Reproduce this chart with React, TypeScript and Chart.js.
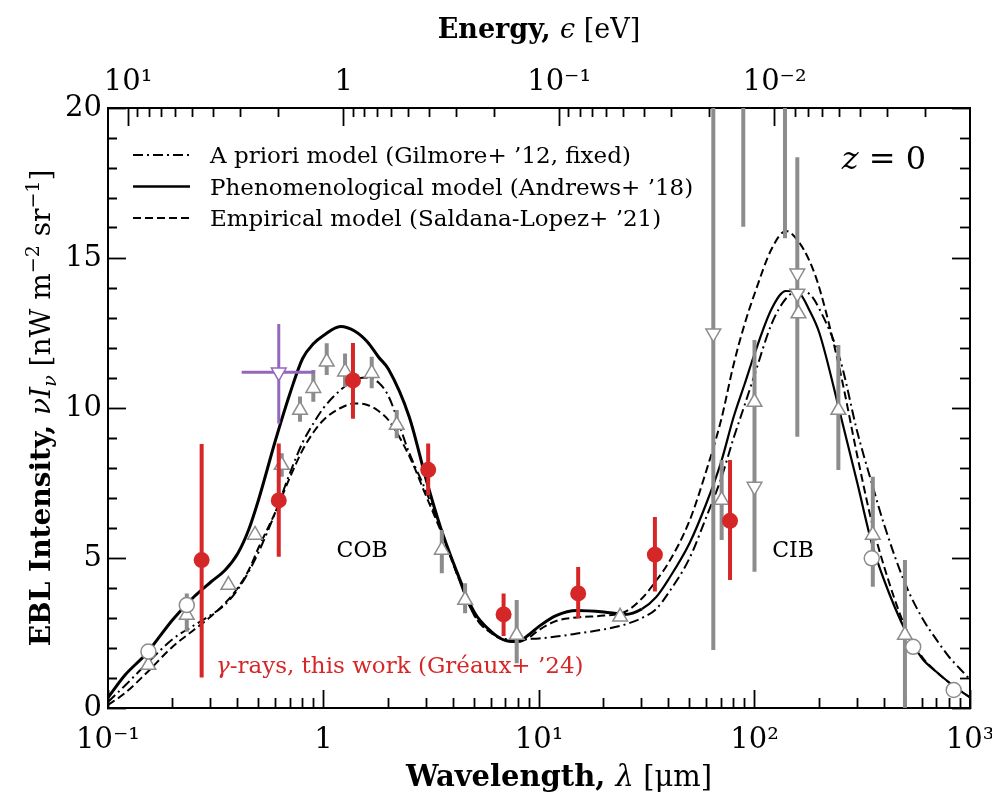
import React, { useEffect, useRef } from 'react';
import { Chart, registerables } from 'chart.js';

Chart.register(...registerables);

const FAMILY = "'DejaVu Serif', 'Liberation Serif', serif";

// ---------------- data ----------------
const lambdaGrid = [0.1, 0.12, 0.15, 0.2, 0.25, 0.3, 0.35, 0.4, 0.45, 0.5, 0.6, 0.7, 0.8, 0.9, 1.0, 1.2, 1.4, 1.6, 1.8, 2.0, 2.5, 3, 3.5, 4, 5, 6, 7, 8, 9, 10, 12, 15, 20, 25, 30, 35, 40, 50, 60, 70, 80, 90, 100, 120, 140, 160, 180, 200, 250, 300, 350, 400, 500, 600, 700, 800, 900, 1000];

const gilmoreI = [0.2, 0.75, 1.45, 2.3, 2.75, 3.1, 3.45, 3.95, 4.55, 5.2, 6.55, 7.85, 8.85, 9.5, 10.0, 10.6, 10.95, 11.02, 10.85, 10.4, 8.5, 7.2, 5.95, 4.8, 3.1, 2.5, 2.3, 2.28, 2.3, 2.32, 2.38, 2.48, 2.62, 2.78, 3.0, 3.3, 3.85, 5.0, 6.4, 7.65, 9.0, 10.1, 11.1, 12.8, 13.65, 13.9, 13.8, 13.3, 11.6, 9.2, 7.5, 6.1, 4.15, 3.0, 2.27, 1.7, 1.3, 0.95];

const andrewsI = [0.35, 1.1, 1.8, 2.95, 3.7, 4.2, 4.6, 5.15, 5.95, 6.95, 8.95, 10.5, 11.65, 12.15, 12.42, 12.72, 12.56, 12.2, 11.7, 11.3, 9.7, 7.6, 6.0, 4.85, 3.2, 2.55, 2.25, 2.22, 2.45, 2.72, 3.08, 3.25, 3.2, 3.12, 3.3, 3.7, 4.3, 5.5, 6.85, 8.2, 9.7, 10.8, 11.8, 13.3, 13.9, 13.85, 13.25, 12.5, 9.8, 7.5, 5.5, 4.25, 2.6, 1.65, 1.2, 0.85, 0.58, 0.35];

const saldanaI = [0.1, 0.5, 1.15, 2.05, 2.6, 3.05, 3.5, 4.0, 4.6, 5.35, 6.55, 7.7, 8.6, 9.2, 9.6, 10.0, 10.15, 10.1, 9.9, 9.6, 8.4, 7.05, 5.9, 4.8, 3.1, 2.5, 2.25, 2.2, 2.35, 2.6, 2.9, 3.02, 3.08, 3.2, 3.65, 4.25, 4.85, 6.25, 7.95, 9.6, 11.45, 12.8, 13.8, 15.3, 15.9, 15.55, 14.9, 14.0, 11.2, 8.4, 6.2, 4.7, 2.7, 1.7, 1.2, 0.85, 0.58, 0.35];

// gamma-ray points (this work)
const gammaLambda = [0.272, 0.62, 1.37, 3.06, 6.85, 15.2, 34.5, 77.0];
const gammaI = [4.93, 6.92, 10.92, 7.94, 3.12, 3.82, 5.11, 6.24];
const gammaLo = [1.02, 5.04, 9.64, 7.1, 2.4, 2.99, 3.88, 4.27];
const gammaHi = [8.8, 8.82, 12.17, 8.82, 3.82, 4.7, 6.37, 8.27];

// purple point
const purpleLambda = [0.62];
const purpleI = [11.19];
const purpleYLo = [9.48];
const purpleYHi = [12.8];
const purpleXLo = [0.417];
const purpleXHi = [0.913];

// grey literature data
const upLambda = [0.154, 0.232, 0.362, 0.481, 0.64, 0.778, 0.897, 1.035, 1.259, 1.674, 2.187, 3.54, 4.54, 7.88, 23.8, 70.4, 100, 160, 245, 354, 499];
const upI = [1.43, 3.1, 4.1, 5.77, 8.1, 9.93, 10.66, 11.54, 11.21, 11.16, 9.43, 5.27, 3.6, 2.43, 3.04, 6.93, 10.2, 13.15, 9.93, 5.77, 2.43];

const downLambda = [64.4, 100, 158, 158];
const downI = [12.49, 7.38, 14.49, 13.82];

const circLambda = [0.154, 0.232, 350, 545, 840];
const circI = [1.88, 3.43, 4.99, 2.04, 0.6];

const barLambda = [0.232, 0.64, 0.778, 0.897, 1.035, 1.259, 1.674, 2.187, 3.54, 4.54, 7.88, 64.4, 70.4, 88.7, 100, 138.5, 158, 245, 354, 499];
const barLo = [2.54, 7.71, 9.54, 10.21, 11.1, 10.7, 10.66, 8.99, 4.49, 3.16, 1.49, 1.93, 5.6, 16.04, 4.54, 15.66, 9.04, 7.93, 4.04, 0];
const barHi = [3.82, 8.49, 10.38, 11.27, 12.16, 11.82, 11.71, 9.93, 5.93, 4.16, 3.6, 21, 8.27, 21, 12.27, 21, 18.36, 12.1, 7.71, 4.93];

// axes
const waveRange = [0.1, 1000];
const hcEVum = 1.23984;
const waveTickValues = [0.1, 1, 10, 100, 1000];
const waveTickLabels = ['10⁻¹', '1', '10¹', '10²', '10³'];
const energyTickValues = [10, 1, 0.1, 0.01];
const energyTickLabels = ['10¹', '1', '10⁻¹', '10⁻²'];
const yRange = [0, 20];
const yMajorStep = 5;

const legendLabels = [
  'A priori model (Gilmore+ ’12, fixed)',
  'Phenomenological model (Andrews+ ’18)',
  'Empirical model (Saldana-Lopez+ ’21)',
];

// ---------------- styles ----------------
const RED = '#d62728';
const PURPLE = '#9467bd';
const GREY = '#8c8c8c';
const DASH_DOT = [10, 4, 2, 4];
const DASHED = [8, 4];
const MAJ = 18;
const MIN = 10;

type Seg = { t: string; size: number; style?: string; weight?: string; dy?: number; color?: string };

function drawSegs(ctx: CanvasRenderingContext2D, segs: Seg[], x: number, y: number, rot = 0, align: 'center' | 'left' = 'center') {
  ctx.save();
  ctx.translate(x, y);
  if (rot) ctx.rotate(rot);
  ctx.textBaseline = 'alphabetic';
  ctx.textAlign = 'left';
  const fontOf = (s: Seg) => `${s.style || 'normal'} ${s.weight || 'normal'} ${s.size}px ${FAMILY}`;
  let total = 0;
  const widths = segs.map((s) => {
    ctx.font = fontOf(s);
    const w = ctx.measureText(s.t).width;
    total += w;
    return w;
  });
  let cx = align === 'center' ? -total / 2 : 0;
  segs.forEach((s, i) => {
    ctx.font = fontOf(s);
    ctx.fillStyle = s.color || '#000';
    ctx.fillText(s.t, cx, s.dy || 0);
    cx += widths[i];
  });
  ctx.restore();
}

function logKind(v: number) {
  const e = Math.floor(Math.log10(v) + 1e-9);
  const m = v / Math.pow(10, e);
  const r = Math.round(m);
  if (Math.abs(m - r) > 1e-6 || r < 1 || r > 9) return 0;
  return r === 1 ? 2 : 1;
}
const innerFirst = (k: number) => (k === 2 ? [] : k === 1 ? [0, MAJ - MIN + 1, MIN, 300] : [0, 300]);
const borderFirst = (k: number) => (k === 2 ? [] : k === 1 ? [MIN + 1, 300] : [0, 300]);
const labelFor = (vals: number[], labels: string[]) => (v: number) => {
  const i = vals.findIndex((t) => Math.abs(Math.log10(t) - Math.log10(v)) < 1e-6);
  return i >= 0 ? labels[i] : '';
};

const pts = (xs: number[], ys: number[]) => xs.map((x, i) => ({ x, y: ys[i] }));
const vbars = (xs: number[], lo: number[], hi: number[]) =>
  xs.flatMap((x, i) => [{ x, y: lo[i] }, { x, y: hi[i] }, { x, y: null as any }]);
const hbars = (ys: number[], lo: number[], hi: number[]) =>
  ys.flatMap((y, i) => [{ x: lo[i], y }, { x: hi[i], y }, { x: hi[i], y: null as any }]);

const tickFont = { family: FAMILY, size: 29 };
const gridBase = { drawOnChartArea: false, drawTicks: true, tickLength: -MAJ, tickColor: '#000', tickWidth: 1.8 };
const borderOpt = { display: true, color: '#000', width: 2 };

const decorPlugin = {
  id: 'decor',
  afterDraw(chart: any) {
    const { ctx, chartArea: a, scales } = chart;
    const xs = scales.x;
    const ys = scales.y;
    const cx = (a.left + a.right) / 2;
    const cy = (a.top + a.bottom) / 2;
    drawSegs(ctx, [
      { t: 'Energy, ', size: 27, weight: 'bold' },
      { t: 'ϵ', size: 27, style: 'italic' },
      { t: ' [eV]', size: 27 },
    ], cx, 38);
    drawSegs(ctx, [
      { t: 'Wavelength, ', size: 29, weight: 'bold' },
      { t: 'λ', size: 29, style: 'italic' },
      { t: ' [μm]', size: 29 },
    ], cx + 20, 786);
    drawSegs(ctx, [
      { t: 'EBL Intensity, ', size: 28, weight: 'bold' },
      { t: 'νI', size: 28, style: 'italic' },
      { t: 'ν', size: 19, style: 'italic', dy: 6 },
      { t: ' [nW m', size: 28 },
      { t: '−2', size: 19, dy: -11 },
      { t: ' sr', size: 28 },
      { t: '−1', size: 19, dy: -11 },
      { t: ']', size: 28 },
    ], 50, cy, -Math.PI / 2);

    // legend
    const rows = [
      { dash: DASH_DOT, width: 2 },
      { dash: [], width: 2.5 },
      { dash: DASHED, width: 2 },
    ];
    rows.forEach((r, i) => {
      const y = a.top + 47 + i * 31.5;
      ctx.save();
      ctx.strokeStyle = '#000';
      ctx.lineWidth = r.width;
      ctx.setLineDash(r.dash);
      ctx.beginPath();
      ctx.moveTo(a.left + 25, y);
      ctx.lineTo(a.left + 82, y);
      ctx.stroke();
      ctx.restore();
      drawSegs(ctx, [{ t: legendLabels[i], size: 23 }], a.left + 102, y + 8, 0, 'left');
    });

    drawSegs(ctx, [{ t: 'z', size: 32, style: 'italic' }, { t: ' = 0', size: 32 }], xs.getPixelForValue(399), ys.getPixelForValue(18.33) + 11);
    drawSegs(ctx, [{ t: 'COB', size: 22 }], xs.getPixelForValue(1.51), ys.getPixelForValue(5.3) + 8);
    drawSegs(ctx, [{ t: 'CIB', size: 22 }], xs.getPixelForValue(151), ys.getPixelForValue(5.3) + 8);
    drawSegs(ctx, [
      { t: 'γ', size: 23, style: 'italic', color: RED },
      { t: '-rays, this work (Gréaux+ ’24)', size: 23, color: RED },
    ], xs.getPixelForValue(0.317), ys.getPixelForValue(1.43) + 8, 0, 'left');
  },
};

export default function App() {
  const ref = useRef<HTMLCanvasElement>(null);
  useEffect(() => {
    const canvas = ref.current;
    if (!canvas) return;

    const curve = (data: number[], dash: number[], width: number, extra: any = {}) => ({
      type: 'line',
      data: pts(lambdaGrid, data),
      borderColor: '#000',
      borderWidth: width,
      borderDash: dash,
      pointRadius: 0,
      cubicInterpolationMode: 'monotone',
      fill: false,
      order: 10,
      ...extra,
    });
    const markers = (data: any[], extra: any, order: number) => ({
      type: 'line',
      data,
      showLine: false,
      order,
      ...extra,
    });
    const bars = (data: any[], color: string, width: number, order: number) => ({
      type: 'line',
      data,
      borderColor: color,
      borderWidth: width,
      borderCapStyle: 'butt',
      pointRadius: 0,
      spanGaps: false,
      clip: 0,
      order,
    });
    const openTri = (color: string, rot: number) => ({
      pointStyle: 'triangle', pointRotation: rot, pointRadius: 8.5, pointBorderWidth: 1.5,
      pointBackgroundColor: '#fff', pointBorderColor: color,
    });

    const datasets: any[] = [
      curve(gilmoreI, DASH_DOT, 2),
      curve(andrewsI, [], 2.2, { segment: { borderWidth: (c: any) => (c.p0.parsed.x < 30 ? 3 : 2.2) } }),
      curve(saldanaI, DASHED, 2),
      bars(vbars(barLambda, barLo, barHi), GREY, 4, 8),
      markers(pts(upLambda, upI), openTri(GREY, 0), 6),
      markers(pts(downLambda, downI), openTri(GREY, 180), 6),
      markers(pts(circLambda, circI), { pointStyle: 'circle', pointRadius: 7.5, pointBorderWidth: 1.5, pointBackgroundColor: '#fff', pointBorderColor: GREY }, 5),
      bars(vbars(purpleLambda, purpleYLo, purpleYHi), PURPLE, 3, 4),
      bars(hbars(purpleI, purpleXLo, purpleXHi), PURPLE, 3, 4),
      markers(pts(purpleLambda, purpleI), openTri(PURPLE, 180), 3),
      bars(vbars(gammaLambda, gammaLo, gammaHi), RED, 4, 2),
      markers(pts(gammaLambda, gammaI), { pointStyle: 'circle', pointRadius: 8, pointBorderWidth: 0, pointBackgroundColor: RED, pointBorderColor: RED }, 1),
    ];

    const chart = new Chart(canvas, {
      type: 'line',
      data: { datasets },
      plugins: [decorPlugin],
      options: {
        responsive: false,
        animation: false,
        devicePixelRatio: 1,
        events: [],
        layout: { padding: 0 },
        plugins: { legend: { display: false }, tooltip: { enabled: false } },
        scales: {
          x: {
            type: 'logarithmic',
            position: 'bottom',
            min: waveRange[0],
            max: waveRange[1],
            border: borderOpt,
            grid: { ...gridBase, tickBorderDash: (c: any) => borderFirst(logKind(c.tick.value)) },
            ticks: {
              autoSkip: false, maxRotation: 0, minRotation: 0, padding: 33, color: '#000', font: tickFont,
              callback: (v: any) => labelFor(waveTickValues, waveTickLabels)(Number(v)),
            },
            afterFit: (s: any) => { s.height = 90; s.paddingLeft = 0; s.paddingRight = 0; },
          },
          xTop: {
            type: 'logarithmic',
            axis: 'x',
            position: 'top',
            reverse: true,
            min: hcEVum / waveRange[1],
            max: hcEVum / waveRange[0],
            border: borderOpt,
            grid: { ...gridBase, tickBorderDash: (c: any) => innerFirst(logKind(c.tick.value)) },
            ticks: {
              autoSkip: false, maxRotation: 0, minRotation: 0, padding: 26, color: '#000', font: tickFont,
              callback: (v: any) => labelFor(energyTickValues, energyTickLabels)(Number(v)),
            },
            afterFit: (s: any) => { s.height = 108; s.paddingLeft = 0; s.paddingRight = 0; },
          },
          y: {
            type: 'linear',
            position: 'left',
            min: yRange[0],
            max: yRange[1],
            weight: 1,
            border: borderOpt,
            grid: { ...gridBase, tickBorderDash: (c: any) => innerFirst(c.tick.value % yMajorStep === 0 ? 2 : 1) },
            ticks: {
              stepSize: 1, autoSkip: false, padding: 24, color: '#000', font: tickFont,
              callback: (v: any) => (Number(v) % yMajorStep === 0 ? String(v) : ''),
            },
            afterFit: (s: any) => { s.width = 108; s.paddingTop = 0; s.paddingBottom = 0; },
          },
          yR: {
            type: 'linear',
            axis: 'y',
            position: 'right',
            min: yRange[0],
            max: yRange[1],
            border: borderOpt,
            grid: { ...gridBase, tickBorderDash: (c: any) => borderFirst(c.tick.value % yMajorStep === 0 ? 2 : 1) },
            ticks: { stepSize: 1, autoSkip: false, display: false },
            afterFit: (s: any) => { s.width = 22; s.paddingTop = 0; s.paddingBottom = 0; },
          },
        },
      } as any,
    } as any);
    return () => chart.destroy();
  }, []);

  return (
    <div style={{ position: 'absolute', left: 0, top: 0, width: 992, height: 798, background: '#fff' }}>
      <canvas ref={ref} width={992} height={798} style={{ display: 'block', width: 992, height: 798 }} />
    </div>
  );
}
